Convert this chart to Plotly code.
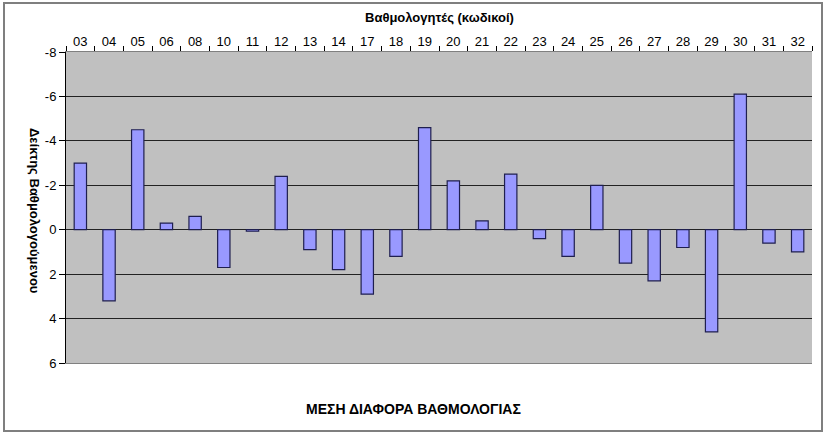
import plotly.graph_objects as go

categories = ["03", "04", "05", "06", "08", "10", "11", "12", "13", "14", "17", "18", "19",
              "20", "21", "22", "23", "24", "25", "26", "27", "28", "29", "30", "31", "32"]
values = [-3.0, 3.2, -4.5, -0.3, -0.6, 1.7, 0.07, -2.4, 0.9, 1.8, 2.9, 1.2, -4.6,
          -2.2, -0.4, -2.5, 0.4, 1.2, -2.0, 1.5, 2.3, 0.8, 4.6, -6.1, 0.6, 1.0]
y_ticks = [-8, -6, -4, -2, 0, 2, 4, 6]
y_ticktext = ["-8", "-6", "-4", "-2", "0", "2", "4", "6"]

title_text = "ΜΕΣΗ ΔΙΑΦΟΡΑ ΒΑΘΜΟΛΟΓΙΑΣ"
x_title = "Βαθμολογητές (κωδικοί)"
y_title = "Δείκτης Βαθμολογούμενου"

fig = go.Figure(go.Bar(
    x=categories, y=values,
    marker=dict(color="#9999FF", line=dict(color="#1F1F4F", width=1.2)),
))

FONT = "Liberation Sans, Arial, sans-serif"

fig.update_layout(
    width=827, height=436,
    margin=dict(l=66, r=15, t=52, b=73),
    paper_bgcolor="white",
    plot_bgcolor="#C0C0C0",
    bargap=0.57,
    showlegend=False,
    font=dict(family=FONT, color="black", size=13),
    xaxis=dict(
        type="category", side="top",
        showgrid=False, zeroline=False,
        ticks="outside", tickson="boundaries", ticklen=5, tickcolor="black",
        tickfont=dict(size=13),
        showline=True, linecolor="#808080", linewidth=1, mirror=True,
    ),
    yaxis=dict(
        range=[6, -8], tickvals=y_ticks, ticktext=y_ticktext,
        showgrid=True, gridcolor="#222222", gridwidth=1,
        zeroline=True, zerolinecolor="#222222", zerolinewidth=1,
        ticks="outside", ticklen=6, tickcolor="black",
        tickfont=dict(size=13),
        showline=True, linecolor="black", linewidth=1,
    ),
    annotations=[
        dict(text="<b>" + x_title + "</b>", xref="paper", yref="paper",
             x=0.5, y=1.0 + (52 - 17) / 311, xanchor="center", yanchor="middle",
             showarrow=False, font=dict(size=13)),
        dict(text="<b>" + title_text + "</b>", xref="paper", yref="paper",
             x=(413 - 66) / 746, y=-(409 - 363) / 311, xanchor="center", yanchor="middle",
             showarrow=False, font=dict(size=14)),
        dict(text="<b>" + y_title + "</b>", xref="paper", yref="paper",
             x=-(66 - 35) / 746, y=0.5 - (211 - 207.5) / 311, xanchor="center", yanchor="middle",
             textangle=90, showarrow=False, font=dict(size=13)),
    ],
    shapes=[
        dict(type="rect", xref="paper", yref="paper",
             x0=(4 - 66) / 746, x1=(822 - 66) / 746,
             y0=(363 - 431) / 311, y1=(363 - 3) / 311,
             line=dict(color="#7F7F7F", width=2), fillcolor="rgba(0,0,0,0)", layer="below"),
    ],
)

fig.write_html("out.html")
